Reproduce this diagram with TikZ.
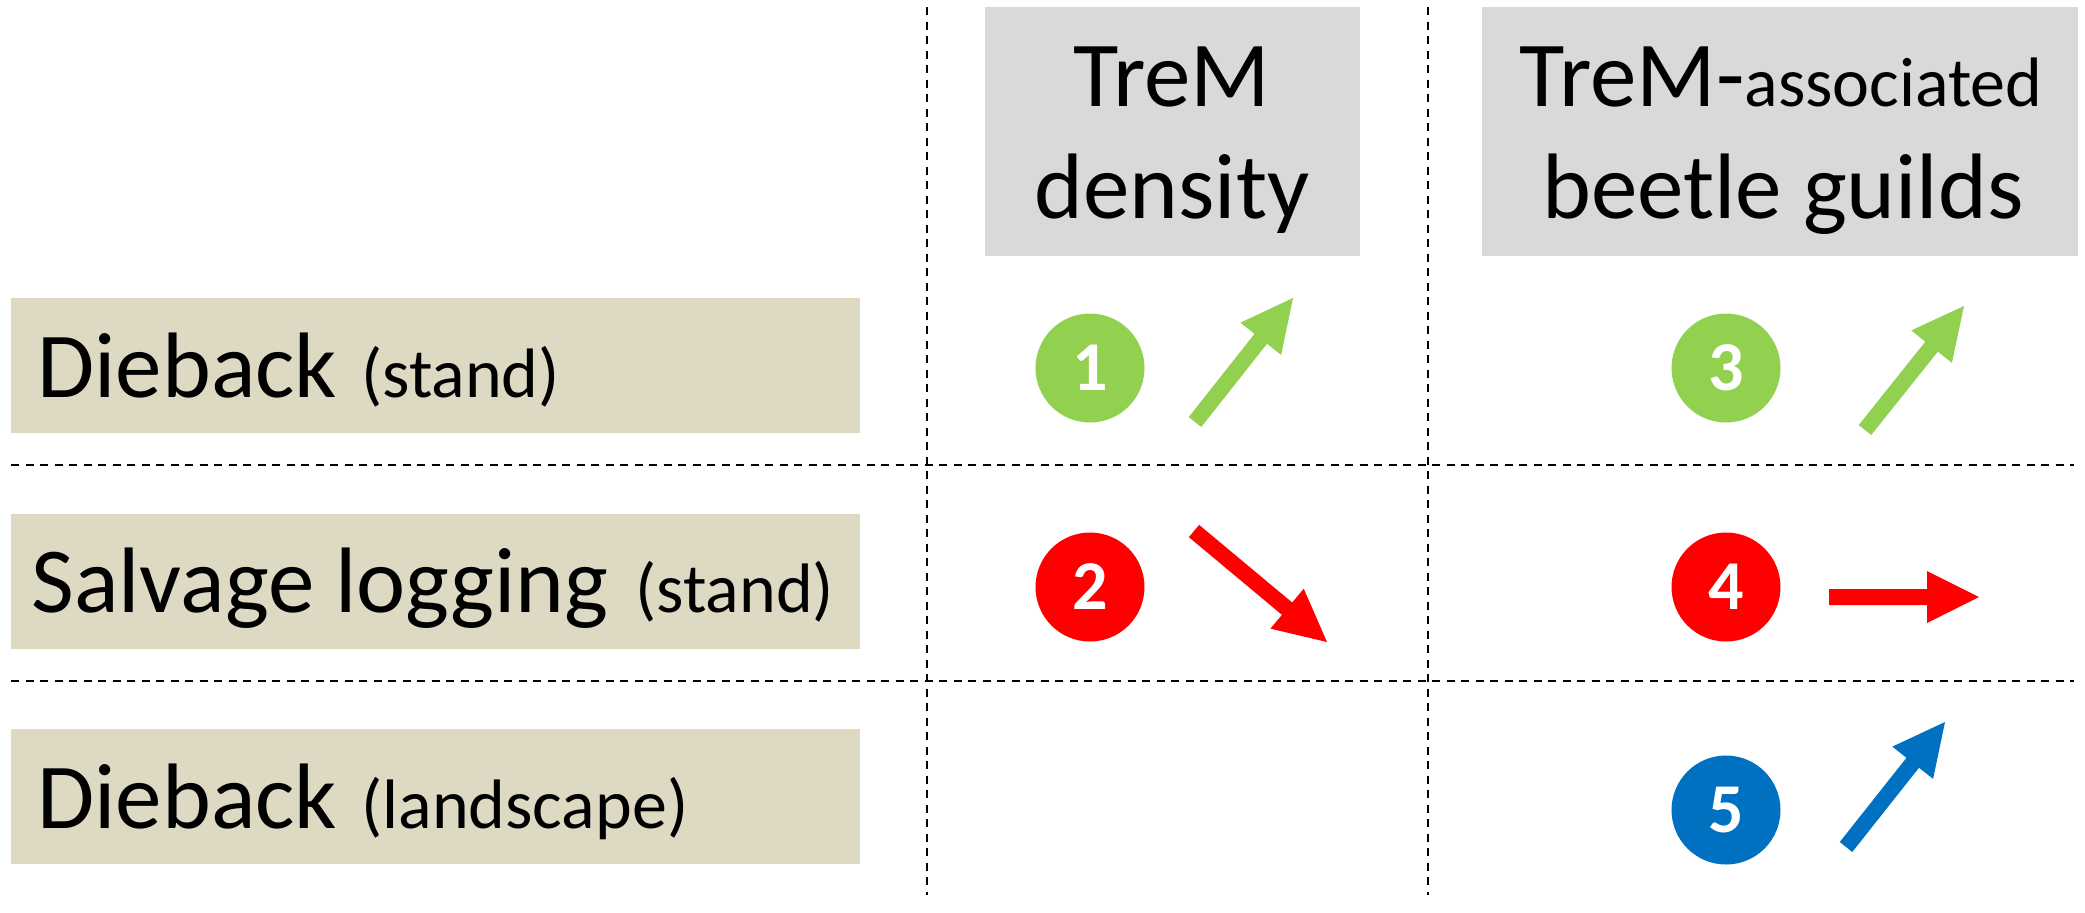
\documentclass[tikz,border=0pt]{standalone}
\usepackage{fontspec}
\setmainfont{Carlito}
\usetikzlibrary{calc}
\definecolor{rowtan}{HTML}{DDD9C3}
\definecolor{headgray}{HTML}{D9D9D9}
\definecolor{upgreen}{HTML}{92D050}
\definecolor{downred}{HTML}{FF0000}
\definecolor{landblue}{HTML}{0070C0}
\newcommand\bigtxt{\fontsize{46.5}{54}\selectfont}
\newcommand\smalltxt{\fontsize{35}{40}\selectfont}
\newcommand\blockarr[2]{%
  \coordinate (#1B) at ($(#1P)!26pt!(#1T)$);
  \fill[#2] ($(#1T)!4pt!90:(#1P)$) -- ($(#1B)!4pt!90:(#1P)$) -- ($(#1B)!13pt!90:(#1P)$)
    -- (#1P) -- ($(#1B)!13pt!-90:(#1P)$) -- ($(#1B)!4pt!-90:(#1P)$) -- ($(#1T)!4pt!-90:(#1P)$) -- cycle;}
\begin{document}
\begin{tikzpicture}[x=0.5pt,y=-0.5pt,
  rowbox/.style={fill=rowtan, draw=none, minimum width=424.5pt, minimum height=67.5pt, inner sep=0pt},
  headbox/.style={fill=headgray, draw=none, minimum height=124.5pt, inner sep=0pt},
  rowlabel/.style={anchor=base west, inner sep=0pt, font=\bigtxt},
  headlabel/.style={anchor=base, inner sep=0pt, font=\bigtxt},
  numdot/.style={circle, minimum size=54.5pt, inner sep=0pt, text=white, font=\fontsize{35}{40}\selectfont\bfseries},
  gridline/.style={black, line width=1.15pt, dash pattern=on 4pt off 3.25pt}]
\useasboundingbox (0,0) rectangle (2085,912);

% grid lines
\draw[gridline] (927,7) -- (927,895);
\draw[gridline] (1428,7) -- (1428,895);
\draw[gridline] (11,465) -- (2074,465);
\draw[gridline] (11,681) -- (2074,681);

% header boxes
\node[headbox, minimum width=187.5pt] (h1) at (1172.5,131.5) {};
\node[headbox, minimum width=298pt] (h2) at (1780,131.5) {};
\node[headlabel] (h1a) at (1172,106) {TreM};
\node[headlabel] (h1b) at (1172,218) {density};
\node[headlabel] (h2a) at (1781,106) {TreM-{\smalltxt associated}};
\node[headlabel] (h2b) at (1783,218) {beetle guilds};

% row boxes
\node[rowbox] (r1) at (435.5,365.5) {};
\node[rowbox] (r2) at (435.5,581) {};
\node[rowbox] (r3) at (435.5,796.5) {};
\node[rowlabel] (l1) at (37,397) {Dieback\hspace{1.5pt} {\smalltxt (stand)}};
\node[rowlabel] (l2) at (31,612) {Salvage logging\hspace{3pt} {\smalltxt (stand)}};
\node[rowlabel] (l3) at (37,828) {Dieback\hspace{1.5pt} {\smalltxt (landscape)}};

% numbered circles
\node[numdot, fill=upgreen] (c1) at (1090,368) {1};
\node[numdot, fill=downred] (c2) at (1090,587) {2};
\node[numdot, fill=upgreen] (c3) at (1726,368) {3};
\node[numdot, fill=downred] (c4) at (1726,587) {4};
\node[numdot, fill=landblue] (c5) at (1726,810) {5};

% block arrows
\coordinate (a1T) at (1195,422); \coordinate (a1P) at (1293,298);
\blockarr{a1}{upgreen}
\coordinate (a2T) at (1194,531); \coordinate (a2P) at (1327,642);
\blockarr{a2}{downred}
\coordinate (a3T) at (1865,430); \coordinate (a3P) at (1964,306);
\blockarr{a3}{upgreen}
\coordinate (a4T) at (1829,597); \coordinate (a4P) at (1979,597);
\blockarr{a4}{downred}
\coordinate (a5T) at (1846,847); \coordinate (a5P) at (1945,722);
\blockarr{a5}{landblue}
\end{tikzpicture}
\end{document}
